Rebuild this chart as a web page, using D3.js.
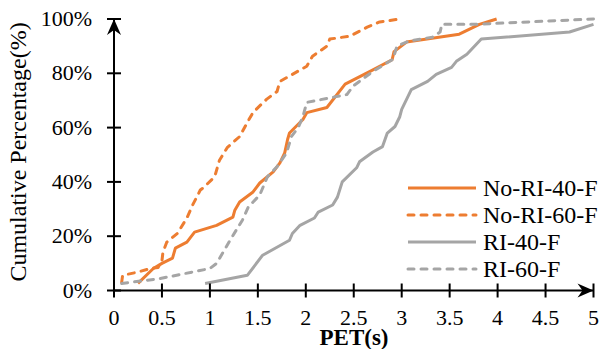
<!DOCTYPE html>
<html>
<head>
<meta charset="utf-8">
<script src="https://cdn.jsdelivr.net/npm/d3@7"></script>
<style>
  body { margin: 0; background: #fff; }
  text { font-family: "Liberation Serif", "Times New Roman", serif; fill: #000; }
</style>
</head>
<body>
<div id="chart"></div>
<script>
// PET values (s) and cumulative percentages
const noRi40X = [0.25, 0.41, 0.5, 0.61, 0.64, 0.76, 0.84, 1.07, 1.24, 1.26, 1.31, 1.45, 1.52, 1.66, 1.73, 1.78, 1.81, 1.83, 1.97, 2.01, 2.22, 2.41, 2.67, 2.9, 2.92, 3.05, 3.6, 3.81, 3.99];
const noRi40Y = [2.6, 8.1, 10, 11.9, 15.6, 17.8, 21.5, 24, 27, 29.6, 32.6, 36.3, 39.6, 43.7, 47, 50.7, 55.6, 58, 63, 65.5, 67.4, 76, 80.7, 85, 88, 91.5, 94.4, 98, 100];

const noRi60X = [0.08, 0.09, 0.24, 0.38, 0.46, 0.5, 0.51, 0.55, 0.66, 0.76, 0.82, 0.9, 0.93, 1.05, 1.1, 1.18, 1.31, 1.39, 1.45, 1.59, 1.7, 1.73, 1.86, 2.01, 2.07, 2.22, 2.25, 2.46, 2.64, 2.77, 2.98];
const noRi60Y = [3, 5.6, 6.7, 8.1, 8.5, 11, 14, 17.8, 21, 26.7, 31.5, 37, 37.8, 41.9, 48, 52.6, 56.7, 61.9, 65.6, 70.4, 73.3, 77, 79.6, 82.6, 86.3, 90, 92.6, 93.7, 97, 98.9, 100];

const ri40X = [0.95, 1.39, 1.55, 1.83, 1.86, 1.94, 2.09, 2.13, 2.28, 2.33, 2.38, 2.53, 2.56, 2.7, 2.8, 2.85, 2.93, 2.98, 3.0, 3.1, 3.27, 3.36, 3.52, 3.57, 3.68, 3.83, 4.75, 5.0];
const ri40Y = [2.6, 5.6, 13, 18.5, 21, 24, 26.7, 28.9, 31.5, 34.4, 40, 45.2, 47.4, 51, 53, 58, 60.4, 64, 66.7, 74, 77, 79.6, 82.2, 84.4, 87, 92.6, 95.2, 98];

const ri60X = [0.08, 0.48, 1.0, 1.07, 1.21, 1.34, 1.4, 1.52, 1.6, 1.7, 1.8, 1.85, 1.92, 1.97, 2.01, 2.43, 2.49, 2.7, 2.91, 2.95, 3.08, 3.32, 3.4, 3.42, 3.81, 5.0];
const ri60Y = [2.6, 4.4, 8.1, 10, 18.5, 26, 30.7, 35.2, 41.9, 45.6, 50.7, 56.7, 60, 64, 69.3, 72.2, 75.2, 80.7, 85.2, 90, 91.9, 93.3, 95.2, 98.1, 98.1, 100];

const seriesNames = ['No-RI-40-F', 'No-RI-60-F', 'RI-40-F', 'RI-60-F'];
const xTicks = [0, 0.5, 1, 1.5, 2, 2.5, 3, 3.5, 4, 4.5, 5];
const yTicks = [0, 20, 40, 60, 80, 100];

const width = 600, height = 349;
const orange = '#ED7D31', gray = '#A5A5A5';

const series = [
  { name: seriesNames[0], xs: noRi40X, ys: noRi40Y, color: orange, dash: null },
  { name: seriesNames[1], xs: noRi60X, ys: noRi60Y, color: orange, dash: '6,7' },
  { name: seriesNames[2], xs: ri40X, ys: ri40Y, color: gray, dash: null },
  { name: seriesNames[3], xs: ri60X, ys: ri60Y, color: gray, dash: '6,7' }
];

const svg = d3.select('#chart').append('svg')
  .attr('width', width)
  .attr('height', height);

const x = d3.scaleLinear().domain([0, 5]).range([114, 593.5]);
const y = d3.scaleLinear().domain([0, 100]).range([290.5, 19]);

// curves
const line = d3.line().x(d => x(d[0])).y(d => y(d[1]));
svg.append('g').selectAll('path')
  .data(series)
  .enter()
  .append('path')
  .attr('d', s => line(s.xs.map((v, i) => [v, s.ys[i]])))
  .attr('fill', 'none')
  .attr('stroke', s => s.color)
  .attr('stroke-width', 3)
  .attr('stroke-linecap', s => s.dash ? 'round' : 'butt')
  .attr('stroke-linejoin', 'round')
  .attr('stroke-dasharray', s => s.dash);

// axes
const axisG = svg.append('g').attr('stroke', '#000').attr('stroke-width', 2);
axisG.append('line').attr('x1', x(0)).attr('x2', x(5)).attr('y1', y(0)).attr('y2', y(0));
axisG.append('line').attr('x1', x(0)).attr('x2', x(0)).attr('y1', y(0)).attr('y2', y(100));
axisG.selectAll('.xt').data(xTicks).enter().append('line')
  .attr('x1', d => x(d)).attr('x2', d => x(d))
  .attr('y1', y(0) - 7).attr('y2', y(0) + 7);
axisG.selectAll('.yt').data(yTicks).enter().append('line')
  .attr('x1', x(0) - 7).attr('x2', x(0) + 7)
  .attr('y1', d => y(d)).attr('y2', d => y(d));

// arrow heads
svg.append('path')
  .attr('d', `M${x(0)},${y(100)} L${x(0) + 7},${y(100) + 16} L${x(0)},${y(100) + 11} L${x(0) - 7},${y(100) + 16} Z`)
  .attr('fill', '#000');
svg.append('path')
  .attr('d', `M${x(5)},${y(0)} L${x(5) - 16},${y(0) - 7} L${x(5) - 11},${y(0)} L${x(5) - 16},${y(0) + 7} Z`)
  .attr('fill', '#000');

// tick labels
svg.selectAll('.xl').data(xTicks).enter().append('text')
  .attr('x', d => x(d))
  .attr('y', 325)
  .attr('text-anchor', 'middle')
  .style('font-size', '22px')
  .text(d => d);
svg.selectAll('.yl').data(yTicks).enter().append('text')
  .attr('x', 92)
  .attr('y', d => y(d) + 7)
  .attr('text-anchor', 'end')
  .style('font-size', '22px')
  .text(d => d + '%');

// axis titles
svg.append('text')
  .attr('x', 354)
  .attr('y', 345)
  .attr('text-anchor', 'middle')
  .style('font-size', '23px')
  .style('font-weight', 'bold')
  .text('PET(s)');
svg.append('text')
  .attr('transform', 'translate(26,152) rotate(-90)')
  .attr('text-anchor', 'middle')
  .style('font-size', '24px')
  .text('Cumulative Percentage(%)');

// legend
const legend = svg.append('g').selectAll('g')
  .data(series)
  .enter()
  .append('g')
  .attr('transform', (d, i) => `translate(0, ${188 + i * 27})`);
legend.append('line')
  .attr('x1', 408).attr('x2', 476)
  .attr('y1', 0).attr('y2', 0)
  .attr('stroke', d => d.color)
  .attr('stroke-width', 3)
  .attr('stroke-linecap', d => d.dash ? 'round' : 'butt')
  .attr('stroke-dasharray', d => d.dash);
legend.append('text')
  .attr('x', 483)
  .attr('y', 8)
  .style('font-size', '24px')
  .text(d => d.name);
</script>
</body>
</html>
